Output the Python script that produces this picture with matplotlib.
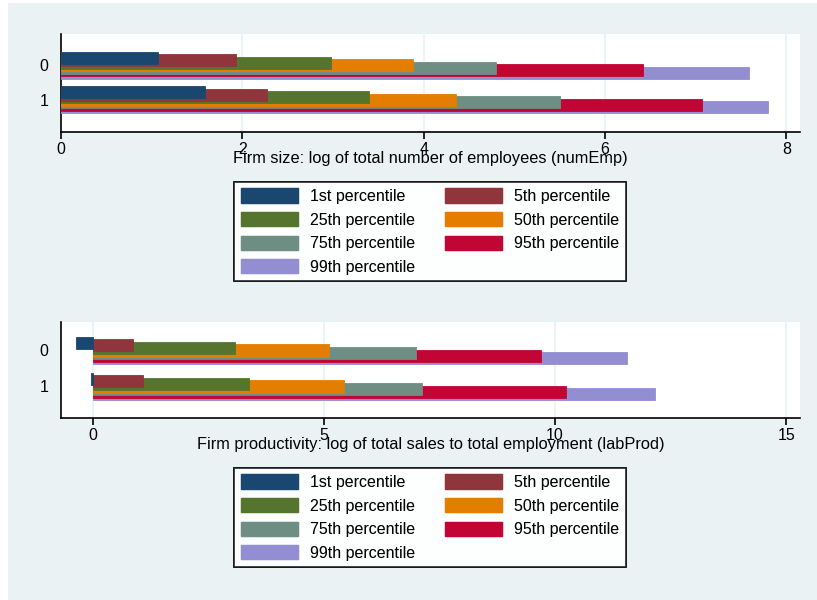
import matplotlib.pyplot as plt
from matplotlib.patches import Patch

plt.rcParams['font.family'] = ['Liberation Sans', 'DejaVu Sans']

# percentile labels and Stata s2color palette
labels = ['1st percentile', '5th percentile', '25th percentile', '50th percentile',
          '75th percentile', '95th percentile', '99th percentile']
colors = ['#1a476f', '#90353b', '#55752f', '#e37e00', '#6e8e84', '#c10534', '#938dd2']
groups = ['0', '1']

# firm size: log of total number of employees, by group
size_g0 = [1.07, 1.93, 2.98, 3.88, 4.80, 6.42, 7.59]
size_g1 = [1.59, 2.27, 3.40, 4.36, 5.50, 7.07, 7.80]

# firm productivity: log of total sales to total employment, by group
prod_g0 = [-0.37, 0.86, 3.07, 5.10, 7.00, 9.70, 11.56]
prod_g1 = [-0.05, 1.08, 3.38, 5.43, 7.12, 10.24, 12.16]

bg = '#eaf2f3'
W, H = 817, 600
fig = plt.figure(figsize=(W / 100, H / 100), dpi=100)
fig.patch.set_facecolor('white')
fig.patches.append(plt.Rectangle((8 / W, 0), 1, 1 - 3 / H, transform=fig.transFigure,
                                 facecolor=bg, edgecolor='none', zorder=-10))

bar_h = 0.34
step = 0.072


def panel(rect, g0, g1, xlim, xticks, ylim, xlabel):
    ax = fig.add_axes(rect)
    ax.set_facecolor('white')
    for i, (v0, v1) in enumerate(zip(g0, g1)):
        off = -0.385 + step * i + bar_h / 2
        ax.barh([0 + off, 1 + off], [v0, v1], height=bar_h, color=colors[i],
                edgecolor=colors[i], linewidth=0.6, zorder=10 - i)
    ax.set_xlim(*xlim)
    ax.set_ylim(*ylim)
    ax.set_yticks([0, 1])
    ax.set_yticklabels(groups)
    ax.set_xticks(xticks)
    ax.grid(axis='x', color=bg, linewidth=1.2, zorder=0)
    ax.set_axisbelow(True)
    for s in ['top', 'right']:
        ax.spines[s].set_visible(False)
    for s in ['left', 'bottom']:
        ax.spines[s].set_linewidth(1.2)
        ax.spines[s].set_color('black')
    ax.tick_params(axis='x', length=5, width=1.2, labelsize=11.5, pad=2)
    ax.tick_params(axis='y', length=0, labelsize=11.5, pad=9)
    ax.set_xlabel(xlabel, fontsize=11.8, labelpad=-4)
    return ax


panel([61 / W, 1 - 132 / H, 739 / W, 98 / H], size_g0, size_g1,
      (0, 8.15), [0, 2, 4, 6, 8], (1.93, -0.9),
      'Firm size: log of total number of employees (numEmp)')
panel([61 / W, 1 - 418 / H, 739 / W, 96 / H], prod_g0, prod_g1,
      (-0.69, 15.3), [0, 5, 10, 15], (1.875, -0.79),
      'Firm productivity: log of total sales to total employment (labProd)')

# legend order: matplotlib fills columns first
order = [0, 2, 4, 6, 1, 3, 5]
handles = [Patch(facecolor=colors[i], edgecolor=colors[i], label=labels[i]) for i in order]
for top in [182, 468]:
    leg = fig.legend(handles=handles, ncol=2, loc='upper center',
                     bbox_to_anchor=(430 / W, 1 - top / H), bbox_transform=fig.transFigure,
                     fontsize=11.5, frameon=True, fancybox=False, edgecolor='black',
                     handlelength=3.6, handleheight=1.0, labelspacing=0.5,
                     handletextpad=0.75, columnspacing=1.85, borderpad=0.4,
                     borderaxespad=0)
    leg.get_frame().set_linewidth(1.2)
    fig.add_artist(leg)

fig.savefig('out.png', dpi=100, facecolor=fig.get_facecolor())
